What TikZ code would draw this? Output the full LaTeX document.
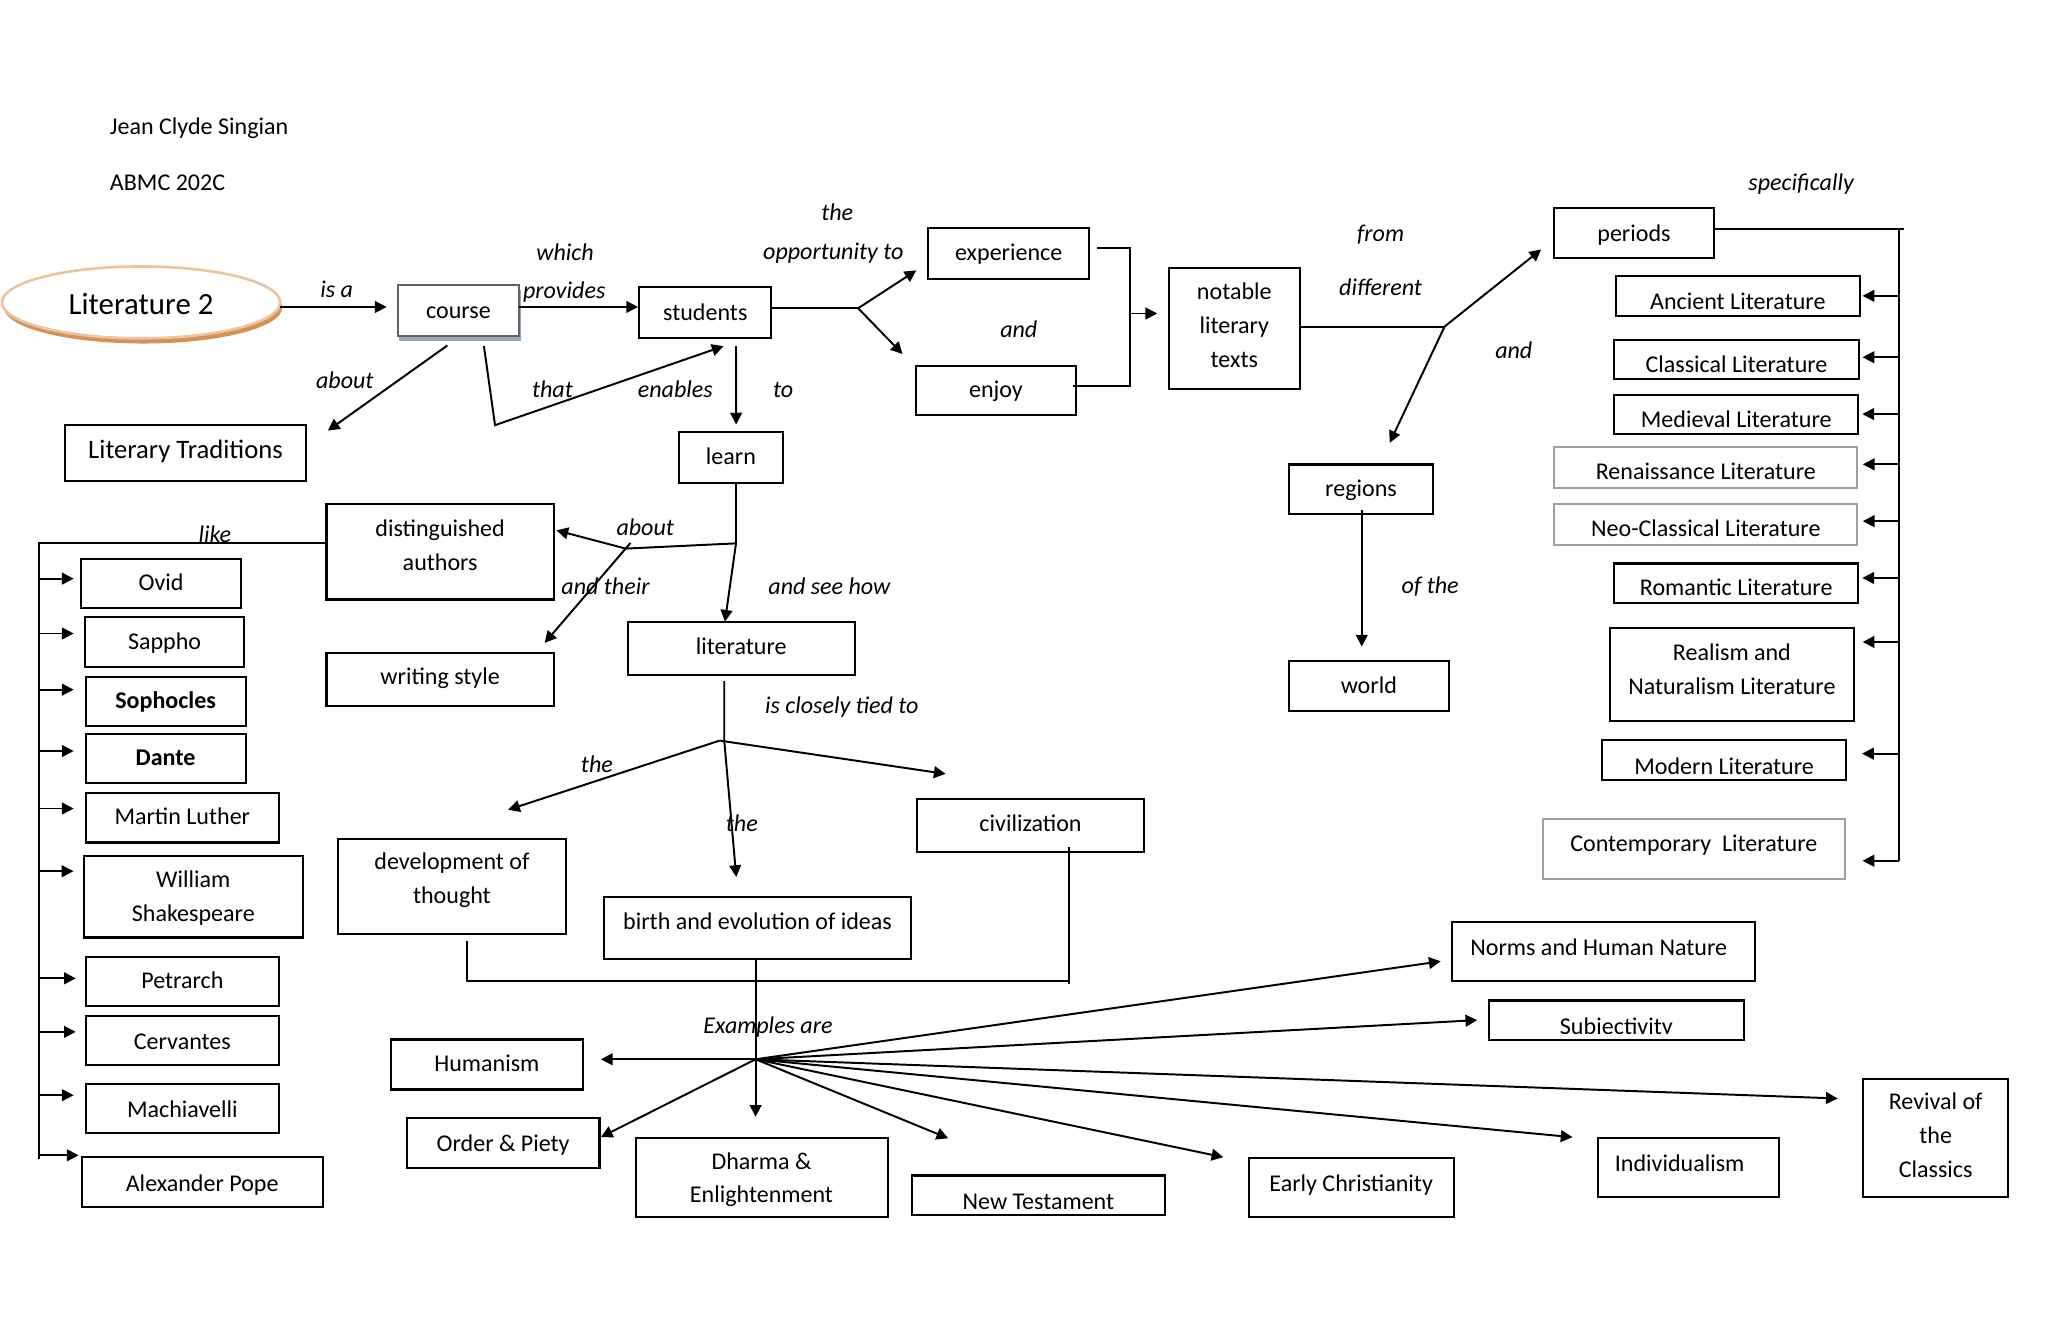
\documentclass[tikz,border=0pt]{standalone}
\usepackage{fontspec}
\setmainfont{Carlito}
\usetikzlibrary{arrows.meta,calc,shapes.geometric,shadows}
\definecolor{ellline}{RGB}{238,196,158}
\definecolor{ellshadow}{RGB}{212,146,88}
\definecolor{greyline}{RGB}{160,160,160}
\definecolor{courseline}{RGB}{95,100,110}
\definecolor{courseshadow}{RGB}{150,168,182}
\newcommand{\basefnt}{\fontsize{9.2}{13}\selectfont}
\begin{document}
\begin{tikzpicture}[x=0.5pt,y=-0.5pt,
  every node/.style={inner sep=0pt, outer sep=0pt, font=\basefnt},
  box/.style={draw=black, line width=0.8pt, fill=white, text height=7.5pt, text depth=1.9pt},
  gbox/.style={box, draw=greyline},
  sz/.style 2 args={minimum width=#1*0.5pt, minimum height=#2*0.5pt},
  th/.style={text height=#1pt},
  td/.style={text depth=#1pt},
  txt/.style={text height=7.5pt, text depth=1.9pt},
  mtxt/.style={align=center},
  lbl/.style={font=\basefnt\itshape, text height=7.5pt, text depth=1.9pt},
  ln/.style={line width=0.75pt},
  arr/.style={line width=0.75pt, -{Triangle[length=4.5pt,width=4.5pt]}},
]
\fill[white] (0,0) rectangle (1568,1025);
\path[use as bounding box] (0,0) rectangle (1568,1025);

% title
\node[txt, anchor=west] (author) at (84.2,97.4) {Jean Clyde Singian};
\node[txt, anchor=west] (cls) at (84.2,140.1) {ABMC 202C};

% top row
\node[ellipse, draw=ellline, line width=1pt, fill=white, minimum width=106.5pt, minimum height=27.5pt,
  font=\fontsize{11.8}{14}\selectfont, text height=11.4pt, text depth=2.4pt,
  drop shadow={shadow xshift=0.8pt, shadow yshift=-2pt, fill=ellshadow, opacity=1}] (lit) at (108,231.5) {Literature 2};
\node[box, draw=courseline, sz={93}{39},
  drop shadow={shadow xshift=0.6pt, shadow yshift=-1.6pt, fill=courseshadow, opacity=1}] (course) at (351,238) {course};
\node[box, sz={101}{39}] (students) at (540,239.5) {students};
\node[box, sz={123.4}{39}] (experience) at (772.3,194) {experience};
\node[box, sz={122}{38}] (enjoy) at (762.5,299) {enjoy};
\node[box, sz={100}{93}] (notable) at (945,251.5) {};
\node[mtxt] (notable-t) at (945,249.8) {\strut notable\\literary\\texts\strut};
\node[box, sz={122}{38.5}, th=8.7] (periods) at (1251,178.2) {periods};

% periods
\node[box, sz={187}{30.4}, th=12.4] (ancient) at (1330.5,226.5) {Ancient Literature};
\node[box, sz={187}{30}, th=11.5] (classical) at (1329.5,275.4) {Classical Literature};
\node[box, sz={186.7}{30}, th=12] (medieval) at (1329.3,317.4) {Medieval Literature};
\node[gbox, sz={232}{31}, th=10.9] (renaissance) at (1306,358) {Renaissance Literature};
\node[gbox, sz={232}{31.4}, th=11.2] (neo) at (1306,401.7) {Neo-Classical Literature};
\node[box, sz={186.7}{30}, th=11.5] (romantic) at (1329.3,446.4) {Romantic Literature};
\node[box, sz={187}{70.8}] (realism) at (1326,516.4) {};
\node[mtxt] (realism-t) at (1326,513.3) {\strut Realism and\\Naturalism Literature\strut};
\node[box, sz={186.5}{30.7}, th=12.9] (modern) at (1320,582) {Modern Literature};
\node[gbox, sz={231.6}{46}, td=5.5] (contemporary) at (1296.8,650) {Contemporary\ \ Literature};

% middle
\node[box, sz={185}{43}, td=3.2, font=\fontsize{10.2}{13}\selectfont] (littrad) at (142,347) {Literary Traditions};
\node[box, sz={80}{39}] (learn) at (559.6,350) {learn};
\node[box, sz={174}{73}] (dist) at (337,422.5) {};
\node[mtxt] (dist-t) at (337,418.2) {\strut distinguished\\authors\strut};
\node[box, sz={174}{40.5}, td=3.5] (writing) at (337,520) {writing style};
\node[box, sz={174}{41}, td=3] (literature) at (567.5,496.5) {literature};
\node[box, sz={110}{38}] (regions) at (1042,374.6) {regions};
\node[box, sz={122.5}{38}] (world) at (1048,525) {world};
\node[box, sz={174}{40}, td=2.9] (civ) at (789,632) {civilization};
\node[box, sz={174}{73}] (dev) at (346,678.5) {};
\node[mtxt] (dev-t) at (346,673.6) {\strut development of\\thought\strut};
\node[box, sz={235}{47.5}, td=6.5] (birth) at (580,710.7) {birth and evolution of ideas};

% examples
\node[box, sz={232}{45}] (norms) at (1228,728.5) {};
\node[txt] (norms-t) at (1224,725.9) {Norms and Human Nature};
\node[box, sz={195}{30}, th=12.9] (subj) at (1237.5,781) {Subjectivity};
\node[box, sz={111}{90.5}] (revival) at (1482,871.3) {};
\node[mtxt] (revival-t) at (1482,870.3) {\strut Revival of\\the\\Classics\strut};
\node[box, sz={138.4}{45.5}] (ind) at (1292.8,893.7) {};
\node[txt] (ind-t) at (1286,891.4) {Individualism};
\node[box, sz={157}{45.5}, td=4.7] (ec) at (1034.5,909.2) {Early Christianity};
\node[box, sz={194}{30}, th=12.9] (nt) at (795,915) {New Testament};
\node[box, sz={193.4}{61}] (dharma) at (583.3,901.5) {};
\node[mtxt] (dharma-t) at (583,902.8) {\strut Dharma \&\\Enlightenment\strut};
\node[box, sz={147.6}{38}, th=8.4] (order) at (385.2,875) {Order \& Piety};
\node[box, sz={147.5}{38.3}, td=2.5] (humanism) at (372.8,815) {Humanism};

% authors
\node[box, sz={122.6}{37.5}] (ovid) at (123.3,446.8) {Ovid};
\node[box, sz={122}{38}] (sappho) at (126,491.6) {Sappho};
\node[box, sz={122.4}{38}, font=\basefnt\bfseries] (sophocles) at (126.8,537) {Sophocles};
\node[box, sz={122.4}{37.5}, font=\basefnt\bfseries] (dante) at (126.8,580.5) {Dante};
\node[box, sz={148}{38}] (luther) at (139.6,626) {Martin Luther};
\node[box, sz={167.5}{62.3}] (shakes) at (148,686.6) {};
\node[mtxt] (shakes-t) at (148,687.6) {\strut William\\Shakespeare\strut};
\node[box, sz={148}{38}] (petrarch) at (139.6,751.5) {Petrarch};
\node[box, sz={148}{38}, th=8.9] (cervantes) at (139.6,796.6) {Cervantes};
\node[box, sz={148}{37.7}, th=8.5] (machiavelli) at (139.6,848.7) {Machiavelli};
\node[box, sz={184.5}{38}, th=8.9] (pope) at (154.8,905) {Alexander Pope};

% clipped descenders of Subjectivity
\fill[white] ($(subj.south west)+(0.9,-4.3)$) rectangle ($(subj.south east)+(-0.9,-0.9)$);

% labels
\node[lbl] (l-isa) at (257.7,222.5) {is a};
\node[lbl] (l-which) at (432.6,194) {which};
\node[lbl] (l-prov) at (432,223) {provides};
\node[lbl] (l-the1) at (641,163.5) {the};
\node[lbl] (l-opp) at (638,193) {opportunity to};
\node[lbl] (l-and1) at (780,252.7) {and};
\node[lbl] (l-from) at (1057,179) {from};
\node[lbl] (l-diff) at (1057,221) {different};
\node[lbl] (l-and2) at (1159,268.7) {and};
\node[lbl] (l-spec) at (1379,140) {specifically};
\node[lbl] (l-about1) at (264,291.5) {about};
\node[lbl] (l-that) at (423,299) {that};
\node[lbl] (l-enab) at (517,299) {enables};
\node[lbl] (l-to) at (599.6,299) {to};
\node[lbl] (l-about2) at (494,404.5) {about};
\node[lbl] (l-their) at (463.6,449.5) {and their};
\node[lbl] (l-see) at (635,449.5) {and see how};
\node[lbl] (l-like) at (164.5,409.5) {like};
\node[lbl] (l-tied) at (644.5,540.5) {is closely tied to};
\node[lbl] (l-the2) at (457,585.7) {the};
\node[lbl] (l-the3) at (568,631) {the};
\node[lbl] (l-ex) at (588,785.5) {Examples are};
\node[lbl] (l-ofthe) at (1095,449) {of the};

% ---------- connectors ----------
\draw[arr, shorten >=4.25pt] ($(lit.east)+(0,3.5)$) coordinate (c-isa) -- (c-isa -| course.west);
\draw[arr, shorten >=0.5pt] ($(course.east)+(0,-3)$) coordinate (c-prov) -- (c-prov -| students.west);

\coordinate (f1) at (657,236);
\draw[ln] (students.east |- f1) -- (f1);
\draw[arr] (f1) -- ($(experience.south west)+(-9,-6.5)$);
\draw[arr] (f1) -- ($(enjoy.north west)+(-10.5,-9)$);

\coordinate (bk1) at (865.5,190);
\coordinate (bk2) at (865.5,295.5);
\coordinate (bkm) at (865.5,240);
\draw[ln] (experience.east |- bk1) ++(6,0) -- (bk1) -- (bk2) -- ($(enjoy.east |- bk2)+(-2,0)$);
\draw[arr, shorten >=4.5pt] (bkm) -- (bkm -| notable.west);

\coordinate (f2) at (1106,250);
\draw[ln] (notable.east |- f2) -- (f2);
\draw[arr] (f2) -- ($(periods.south west)+(-10,-6.5)$);
\draw[arr] (f2) -- ($(regions.north)+(22,-16.6)$);
\draw[arr] ($(regions.south)+(0.6,-3)$) -- ($(world.north)+(-5.4,-11)$);

% periods spine
\coordinate (sp1) at (1454,175.5);
\coordinate (sp2) at (1454,659);
\draw[ln] (periods.east |- sp1) -- ($(sp1)+(4,0)$);
\draw[ln] (sp1) -- (sp2);
\foreach \nm/\yy/\sh in {ancient/226.5/1pt, classical/273.5/1.5pt, medieval/317/1.6pt,
  renaissance/355.5/2.1pt, neo/399/2.1pt, romantic/442.5/1.6pt, realism/491.5/3.3pt,
  modern/577/6.2pt, contemporary/659/6.7pt}
  {\draw[arr, shorten >=\sh] (sp1 |- 0,\yy) -- (\nm.east |- 0,\yy);}

% left side
\draw[arr] ($(course.south)+(-8.5,7)$) -- ($(littrad.north east)+(16.5,4.2)$);
\coordinate (thv) at (379,325.5);
\draw[arr] ($(course.south)+(19.5,7.5)$) -- (thv) -- ($(students.south)+(14,6)$);
\draw[arr] ($(students.south)+(23.5,6)$) -- ($(learn.north)+(4,-5.5)$);

\coordinate (j1) at (563.5,416);
\coordinate (j2) at (479,420);
\coordinate (tws) at ($(writing.north east)+(-7,-7.5)$);
\draw[ln] (learn.south -| j1) -- (j1) -- (j2);
\draw[arr] (j2) -- ($(dist.east)+(2,-16.5)$);
\draw[arr] ($(j2)!-0.06!(tws)$) -- (tws);
\draw[arr] (j1) -- ($(literature.north)+(-12.5,0)$);

% authors spine
\coordinate (ls1) at (29.5,415.5);
\coordinate (ls2) at (29.5,887);
\draw[ln] (dist.west |- ls1) -- (ls1) -- (ls2);
\foreach \nm/\yy/\sh in {ovid/443/2.8pt, sappho/485/4.3pt, sophocles/528/4.6pt, dante/575/4.6pt,
  luther/619/4.6pt, shakes/667/4pt, petrarch/749/3.8pt, cervantes/790/3.8pt,
  machiavelli/838.5/4.6pt, pope/884.5/1.2pt}
  {\draw[arr, shorten >=\sh] (ls1 |- 0,\yy) -- (\nm.west |- 0,\yy);}

% literature branches
\coordinate (h2) at (551,567);
\draw[arr] ($(literature.south)+(-13,4.5)$) coordinate (lsd) -- (lsd |- h2) -- ($(birth.north)+(-16.3,-15.5)$);
\draw[arr] (h2) -- ($(dev.north east)+(-44,-22)$);
\draw[arr] (h2) -- ($(civ.north west)+(22,-19.5)$);

\coordinate (cl) at (818.6,751);
\draw[ln] ($(dev.south)+(11.6,5.5)$) |- (cl);
\draw[ln] ($(civ.south)+(29.6,-3.5)$) -- ($(cl)+(0,2.5)$);

% examples hub
\coordinate (h3) at (578.5,811);
\draw[arr] (birth.south -| h3) -- (h3) -- ($(dharma.north)+(-4.8,-16)$);
\draw[arr] (h3) -- ($(humanism.east)+(13.5,-4)$);
\draw[arr] (h3) -- ($(order.east)+(1,-4.4)$);
\draw[arr] (h3) -- ($(nt.north west)+(28,-28.5)$);
\draw[arr] (h3) -- ($(ec.north west)+(-19.4,-0.5)$);
\draw[arr] (h3) -- ($(ind.north west)+(-19.6,-0.3)$);
\draw[arr] (h3) -- ($(revival.west)+(-19.5,-30.3)$);
\draw[arr] (h3) -- ($(subj.west)+(-9,0)$);
\draw[arr] (h3) -- ($(norms.west)+(-9,7.5)$);
\end{tikzpicture}
\end{document}
